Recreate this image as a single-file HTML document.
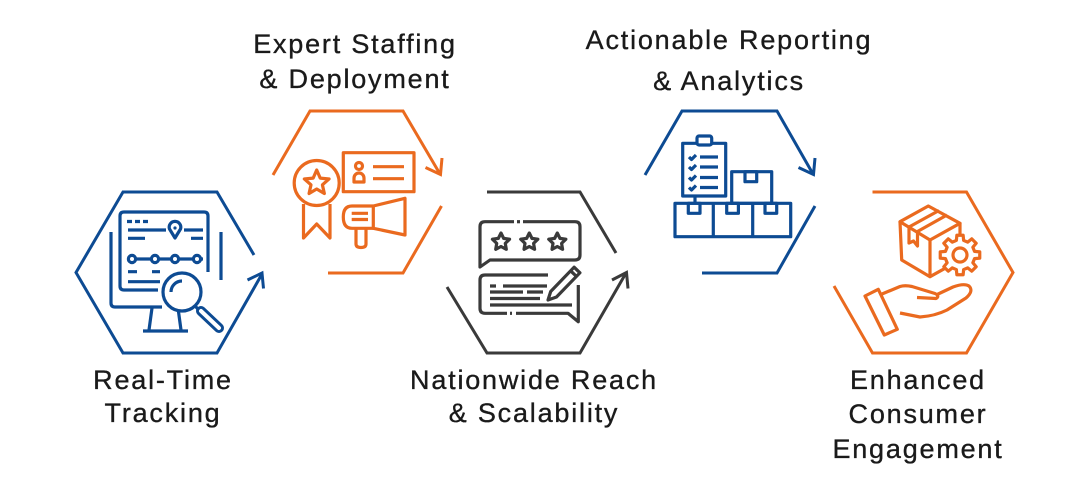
<!DOCTYPE html>
<html><head><meta charset="utf-8"><style>
html,body{margin:0;padding:0;background:#fff;}
svg{display:block;}
text{font-family:"Liberation Sans",sans-serif;font-size:27px;letter-spacing:1.8px;fill:#1a1a1a;stroke:#1a1a1a;stroke-width:0.35px;text-anchor:middle;}
</style></head><body>
<svg width="1084" height="492" viewBox="0 0 1084 492" xmlns="http://www.w3.org/2000/svg">
<rect width="1084" height="492" fill="#fff"/>

<!-- Hexagon frames -->
<g fill="none" stroke-width="3" stroke-linejoin="miter">
  <g stroke="#0d4b93">
    <path d="M254,255 L217,192 L123,192 L76,272.5 L123,353 L217,353 L262,274"/>
    <path d="M247.5,280 L262,273 L263.5,288.5"/>
  </g>
  <g stroke="#ea6a1f">
    <path d="M273,175 L310,111 L403,111 L440,174"/>
    <path d="M425.5,167.5 L440.5,174.5 L442,158"/>
    <path d="M441.5,206 L403,273 L328,273"/>
  </g>
  <g stroke="#3a3a3a">
    <path d="M487,192 L580,192 L616,253"/>
    <path d="M447,287 L487,353 L580,353 L626,273"/>
    <path d="M612,280 L626.5,272.5 L628,288.5"/>
  </g>
  <g stroke="#0d4b93">
    <path d="M645,175 L682,111 L777,111 L813,174"/>
    <path d="M798.5,167.5 L813.5,174.5 L815,158"/>
    <path d="M815,206 L777,273 L702,273"/>
  </g>
  <g stroke="#ea6a1f">
    <path d="M872.5,192 L966.5,192 L1013,272.5 L966.5,353 L872.5,353 L834,286"/>
  </g>
</g>

<!-- Icon 1 -->
<g fill="none" stroke="#0d4b93" stroke-width="3.2" stroke-linecap="butt" stroke-linejoin="round">
  <path d="M158,290 L124,290 Q120,290 120,286 L120,216 Q120,212 124,212 L204,212 Q208,212 208,216 L208,272"/>
  <path d="M111,232 L111,303 Q111,307 115,307 L162,307"/>
  <path d="M221,232 L221,280"/>
  <path d="M152,308 L149,330 M178,308 L181,330 M143,331 L188,331"/>
  <path d="M127,221.5 h5 M135,221.5 h5 M143,221.5 h5"/>
  <path d="M169.5,229 A5.8,5.8 0 1 1 180.5,229 L175,238 Z"/>
  <circle cx="175" cy="228" r="1.6" fill="#0d4b93" stroke="none"/>
  <path d="M128,230 H166 M184,230 H203 M128,238.3 H145 M191,238.3 H203"/>
  <path d="M128,259 H194 M200,259 H203"/>
  <circle cx="132" cy="259" r="3.6" fill="#fff"/>
  <circle cx="155" cy="259" r="3.6" fill="#fff"/>
  <circle cx="175" cy="259" r="3.6" fill="#fff"/>
  <circle cx="197" cy="259" r="3.6" fill="#fff"/>
  <path d="M128,271.7 H137 M152,271.7 H160 M128,281.7 H160"/>
  <circle cx="182" cy="292" r="19" fill="#fff"/>
  <path d="M171,292 A11,11 0 0 1 182,281"/>
  <path d="M195,306 L200,311"/>
  <path d="M201,311 L219,328" stroke-width="10" stroke-linecap="round"/>
  <path d="M201,311 L219,328" stroke="#fff" stroke-width="4" stroke-linecap="round"/>
</g>

<!-- Icon 2 -->
<g fill="none" stroke="#ea6a1f" stroke-width="3.2" stroke-linejoin="round">
  <circle cx="316.7" cy="183" r="22.5"/>
  <polygon transform="translate(316.7,183)" points="0,-13 3.53,-4.85 12.36,-4.02 5.71,1.85 7.64,10.52 0,6 -7.64,10.52 -5.71,1.85 -12.36,-4.02 -3.53,-4.85"/>
  <path d="M303.5,204 V238 L316.7,224 L330,238 V204"/>
  <rect x="343.3" y="152.7" width="70.7" height="39"/>
  <circle cx="359" cy="166" r="3.5"/>
  <path d="M354,182 V178 A5,5 0 0 1 364,178 V182 Z"/>
  <path d="M373,166.7 H404 M373,178.7 H404"/>
  <path d="M373.3,206 L352,206 Q343.3,206 343.3,217 Q343.3,228.3 352,228.3 L373.3,228.3"/>
  <path d="M351.7,213.3 H368 M351.7,219.5 H368"/>
  <polygon points="373.3,206 405,198.3 405,235 373.3,228.3"/>
  <path d="M356,228.3 V244 Q356,247.5 361,247.5 Q366,247.5 366,244 V228.3"/>
</g>

<!-- Icon 3 -->
<g fill="none" stroke="#3a3a3a" stroke-width="3.2" stroke-linejoin="round">
  <path d="M514,221.7 H485 Q480,221.7 480,226.7 V267 L490,260 H575 Q580,260 580,255 V226.7 Q580,221.7 575,221.7 H523"/>
  <path d="M517,221.7 H520"/>
  <polygon transform="translate(501,242)" points="0,-9 2.65,-3.64 8.56,-2.78 4.28,1.39 5.29,7.28 0,4.5 -5.29,7.28 -4.28,1.39 -8.56,-2.78 -2.65,-3.64"/>
  <polygon transform="translate(529.3,242)" points="0,-9 2.65,-3.64 8.56,-2.78 4.28,1.39 5.29,7.28 0,4.5 -5.29,7.28 -4.28,1.39 -8.56,-2.78 -2.65,-3.64"/>
  <polygon transform="translate(557.3,242)" points="0,-9 2.65,-3.64 8.56,-2.78 4.28,1.39 5.29,7.28 0,4.5 -5.29,7.28 -4.28,1.39 -8.56,-2.78 -2.65,-3.64"/>
  <path d="M548,275 H485 Q480,275 480,280 V308.3 Q480,313.3 485,313.3 H507"/>
  <path d="M510,313.3 H512"/>
  <path d="M516,313.3 H568 L578.3,321.7 V285"/>
  <path d="M490,286 H496 M503,286 H547 M490,292 H523 M527,292 H543 M490,298.5 H540 M490,305 H572"/>
  <polygon points="548,300 550.7,291.5 574.1,267.2 579.9,272.8 556.5,297"/>
  <path d="M570.6,270.8 L576.4,276.4"/>
</g>

<!-- Icon 4 -->
<g fill="none" stroke="#0d4b93" stroke-width="3.2" stroke-linejoin="round">
  <rect x="682.7" y="143.3" width="43" height="52.7"/>
  <rect x="697" y="136" width="14.7" height="9" rx="2" fill="#fff"/>
  <path d="M689,157 l2.5,2.5 l4.5,-4.5 M700,157 H718"/>
  <path d="M689,167 l2.5,2.5 l4.5,-4.5 M700,167 H718"/>
  <path d="M689,177.5 l2.5,2.5 l4.5,-4.5 M700,177.5 H718"/>
  <path d="M689,187.5 l2.5,2.5 l4.5,-4.5 M700,187.5 H718"/>
  <path d="M695,196 V203.3"/>
  <rect x="731.7" y="171.7" width="40" height="31.6"/>
  <rect x="745" y="171.7" width="11.7" height="10"/>
  <rect x="675" y="203.3" width="115.7" height="33.4"/>
  <path d="M713.3,203.3 V236.7 M752.7,203.3 V236.7"/>
  <rect x="688.3" y="203.3" width="11.7" height="10"/>
  <rect x="726.7" y="203.3" width="11.7" height="10"/>
  <rect x="765" y="203.3" width="11.7" height="10"/>
</g>

<!-- Icon 5 -->
<g fill="none" stroke="#ea6a1f" stroke-width="3.2" stroke-linejoin="round">
  <polygon points="900,221.7 928.3,206 960,223.3 930,240"/>
  <path d="M900,221.7 L901.7,260 L930,276.7 V240 M930,276.7 L960,260 V223.3"/>
  <path d="M909,227 L939,210.5 M917.5,231.5 L947,215"/>
  <path d="M909,227 V243 L913.5,241 L917.5,246 V231.5"/>
  <polygon fill="#fff" transform="translate(960,255)" points="14.55,-3.63 19.75,-3.13 19.75,3.13 14.55,3.63 12.86,7.73 16.18,11.76 11.76,16.18 7.73,12.86 3.63,14.55 3.13,19.75 -3.13,19.75 -3.63,14.55 -7.73,12.86 -11.76,16.18 -16.18,11.76 -12.86,7.73 -14.55,3.63 -19.75,3.13 -19.75,-3.13 -14.55,-3.63 -12.86,-7.73 -16.18,-11.76 -11.76,-16.18 -7.73,-12.86 -3.63,-14.55 -3.13,-19.75 3.13,-19.75 3.63,-14.55 7.73,-12.86 11.76,-16.18 16.18,-11.76 12.86,-7.73"/>
  <circle cx="960" cy="255" r="7"/>
  <polygon points="865,296 878.3,289.3 897.3,329.3 884.3,335"/>
  <path d="M882,294 L900,286.5 Q905,285 912,286.5 L935,293.5 Q940,296 936,298.5 L917,297.5"/>
  <path d="M936,295 L953,287 Q964,283 969,286 Q974,291 966,298 L947,310 Q935,316 920,317 L900,313"/>
</g>

<!-- Labels -->
<text x="163" y="389">Real-Time</text>
<text x="163" y="422">Tracking</text>
<text x="355" y="53">Expert Staffing</text>
<text x="355" y="88">&amp; Deployment</text>
<text x="534" y="389">Nationwide Reach</text>
<text x="534" y="422">&amp; Scalability</text>
<text x="729" y="49">Actionable Reporting</text>
<text x="729" y="90">&amp; Analytics</text>
<text x="918" y="389">Enhanced</text>
<text x="918" y="423">Consumer</text>
<text x="918" y="458">Engagement</text>
</svg>
</body></html>
